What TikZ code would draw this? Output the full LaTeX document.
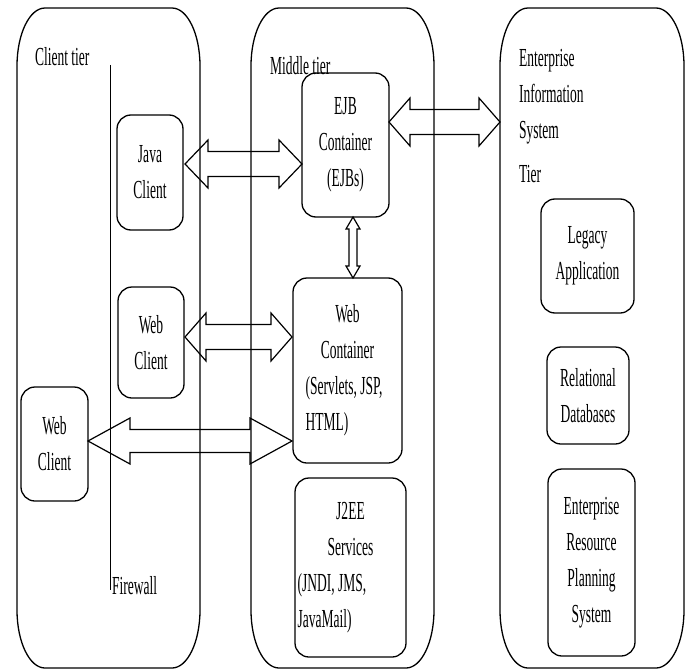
\documentclass[tikz,border=0pt]{standalone}
\usepackage{fontspec}
\setmainfont{Liberation Serif}[FakeStretch=0.52]
\usetikzlibrary{calc}
\tikzset{
  tierframe/.style={inner sep=0pt,outer sep=0pt,minimum height=660pt},
  tierline/.style={draw=black,line width=1.3pt},
  compbox/.style={draw=black,line width=1.3pt,rounded corners=14pt,align=center,
    inner sep=0pt,outer sep=0pt,font=\fontsize{26}{36}\selectfont},
  label/.style={inner sep=0pt,outer sep=0pt,font=\fontsize{26}{36}\selectfont},
  flowarrow/.style={draw=black,line width=1.2pt,line join=miter},
  wallline/.style={draw=black,line width=0.8pt}
}
\newcommand\tieroutline[3]{%
  \draw[tierline] ([xshift=#2]#1.north west) -- ([xshift=-#2]#1.north east)
    arc[start angle=90,end angle=0,x radius=#2,y radius=#3]
    -- ([yshift=#3]#1.south east)
    arc[start angle=0,end angle=-90,x radius=#2,y radius=#3]
    -- ([xshift=#2]#1.south west)
    arc[start angle=270,end angle=180,x radius=#2,y radius=#3]
    -- ([yshift=-#3]#1.north west)
    arc[start angle=180,end angle=90,x radius=#2,y radius=#3] -- cycle;}
\newcommand\hdarrow[6]{%
  \draw[flowarrow] let \p1=(#1), \p2=(#2) in
    (\x1,#3) -- (\x1+#6,#3+#5) -- (\x1+#6,#3+#4) -- (\x2-#6,#3+#4)
    -- (\x2-#6,#3+#5) -- (\x2,#3) -- (\x2-#6,#3-#5) -- (\x2-#6,#3-#4)
    -- (\x1+#6,#3-#4) -- (\x1+#6,#3-#5) -- cycle;}
\newcommand\vdarrow[6]{%
  \draw[flowarrow] let \p1=(#1), \p2=(#2) in
    (#3,\y1) -- (#3+#5,\y1-#6) -- (#3+#4,\y1-#6) -- (#3+#4,\y2+#6)
    -- (#3+#5,\y2+#6) -- (#3,\y2) -- (#3-#5,\y2+#6) -- (#3-#4,\y2+#6)
    -- (#3-#4,\y1-#6) -- (#3-#5,\y1-#6) -- cycle;}
\begin{document}
\begin{tikzpicture}[x=1pt,y=1pt]
\useasboundingbox (0,0) rectangle (692,-671);
\fill[white] (0,0) rectangle (692,-671);

% tier frames (invisible nodes, outlines drawn below)
\node[tierframe,minimum width=183pt] (client) at (108.5,-338) {};
\node[tierframe,minimum width=183pt] (middle) at (342.5,-338) {};
\node[tierframe,minimum width=184pt] (eis) at (592,-338) {};

% components
\node[compbox,minimum width=66pt,minimum height=115pt] (java) at (150,-172.5) {Java\\Client};
\node[compbox,minimum width=66pt,minimum height=111pt] (webmid) at (151,-342.5) {Web\\Client};
\node[compbox,minimum width=67pt,minimum height=114pt] (webleft) at (54.5,-444) {Web\\Client};
\node[compbox,minimum width=87pt,minimum height=144pt] (ejb) at (345.5,-145) {EJB\\Container\\(EJBs)};
\node[compbox,minimum width=109pt,minimum height=185pt] (webcont) at (347.5,-370.5)
  {Web\\Container\\\makebox[84pt][l]{(Servlets, JSP,}\\\makebox[84pt][l]{HTML)}};
\node[compbox,minimum width=111pt,minimum height=179pt] (j2ee) at (350.5,-567.5)
  {J2EE\\Services\\\makebox[106pt][l]{(JNDI, JMS,}\\\makebox[106pt][l]{JavaMail)}};
\node[compbox,minimum width=93pt,minimum height=114pt] (legacy) at (587.5,-256) {Legacy\\Application};
\node[compbox,minimum width=82pt,minimum height=97pt] (reldb) at (588,-395.5) {Relational\\Databases};
\node[compbox,minimum width=87pt,minimum height=187pt] (erp) at (591.5,-562.5) {Enterprise\\Resource\\Planning\\System};

% connectors (double arrows)
\hdarrow{[xshift=2pt]java.east}{ejb.west}{-164pt}{12.5pt}{24pt}{23pt}
\hdarrow{ejb.east}{eis.west}{-122pt}{12.5pt}{24pt}{21pt}
\hdarrow{[xshift=1pt]webmid.east}{[xshift=-1pt]webcont.west}{-337pt}{12.5pt}{24pt}{21pt}
\hdarrow{webleft.east}{[xshift=-1pt]webcont.west}{-441pt}{11.5pt}{23pt}{42pt}
\vdarrow{ejb.south}{webcont.north}{353pt}{4pt}{7pt}{12pt}

% tier outlines
\tieroutline{client}{28pt}{58pt}
\tieroutline{middle}{28pt}{58pt}
\tieroutline{eis}{28pt}{58pt}

% firewall
\coordinate (fwtop) at (110,-65);
\coordinate (fwbot) at (110,-590);
\draw[wallline] (fwtop) -- (fwbot);
\node[label,anchor=base west] (fwlabel) at (112,-594) {Firewall};

% tier labels
\node[label,anchor=base west] (clientlabel) at (35,-66) {Client tier};
\node[label,anchor=base west] (middlelabel) at (270,-75) {Middle tier};
\node[label,anchor=north west,align=left] (eislabel) at (519,-49)
  {Enterprise\\Information\\System\\[8pt]Tier};
\end{tikzpicture}
\end{document}
